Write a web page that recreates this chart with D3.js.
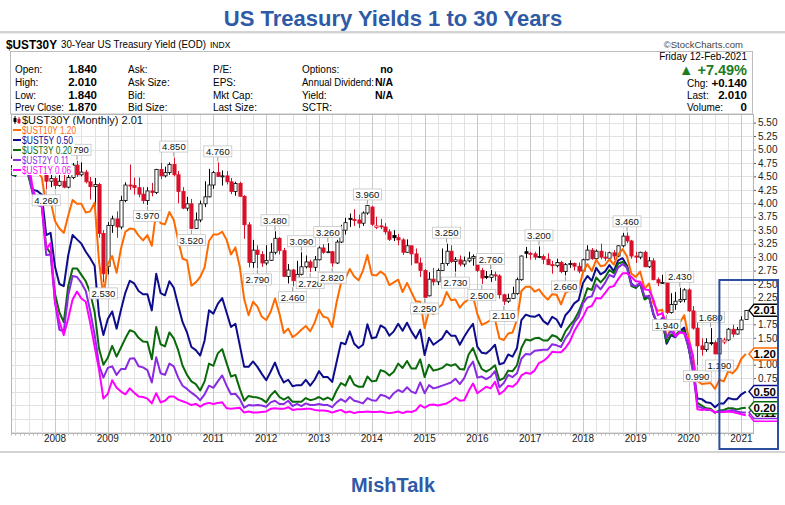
<!DOCTYPE html>
<html><head><meta charset="utf-8">
<script src="https://cdn.jsdelivr.net/npm/d3@7"></script>
<style>
body{margin:0;background:#fff}
svg{display:block}
text{font-family:"Liberation Sans",Arial,sans-serif}
</style>
</head><body>
<svg id="c" width="785" height="505"></svg>
<script>
// ---------------- DATA ----------------
// monthly bars, Mar 2007 .. Feb 2021
const months = d3.timeMonth.range(new Date(2007,2,1), new Date(2021,2,1)).map(d3.timeFormat("%Y-%m"));
const years = ["2008","2009","2010","2011","2012","2013","2014","2015","2016","2017","2018","2019","2020","2021"];

// $UST30Y monthly OHLC
const o30 = [4.70,4.84,4.81,5.01,5.12,4.91,4.84,4.83,4.76,4.41,
 4.46,4.33,4.41,4.30,4.48,4.71,4.53,4.58,4.40,4.31,4.35,3.44,
 2.83,3.59,3.71,3.56,4.05,4.34,4.33,4.29,4.17,4.05,4.23,4.20,
 4.63,4.51,4.57,4.72,4.53,4.22,3.91,3.99,3.53,3.69,3.99,4.12,
 4.34,4.57,4.50,4.51,4.40,4.22,4.37,4.13,3.60,2.90,3.13,3.05,
 2.89,2.94,3.09,3.35,3.12,2.64,2.76,2.56,2.68,2.82,2.91,2.81,
 2.95,3.17,3.09,3.10,2.89,3.28,3.50,3.72,3.70,3.69,3.63,3.82,
 3.93,3.55,3.58,3.56,3.47,3.40,3.36,3.32,3.09,3.21,3.06,2.89,
 2.75,2.28,2.59,2.54,2.75,2.88,3.11,2.92,2.95,2.87,2.93,2.98,
 3.01,2.75,2.64,2.62,2.67,2.65,2.30,2.18,2.23,2.32,2.58,3.10,
 3.07,3.06,3.00,3.01,2.96,2.86,2.84,2.90,2.73,2.86,2.88,2.83,
 2.74,2.95,3.13,2.97,3.11,3.00,2.98,3.08,3.02,3.21,3.39,3.30,
 3.02,3.00,3.09,2.82,2.93,2.58,2.52,2.53,1.97,2.12,2.18,2.21,
 2.39,2.00,1.68,1.35,1.28,1.41,1.41,1.20,1.42,1.46,1.66,1.57,
 1.65,1.84];
const h30 = [4.87,4.97,5.03,5.35,5.20,5.00,4.92,4.95,4.80,4.66,
 4.50,4.70,4.63,4.57,4.75,4.79,4.76,4.62,4.49,4.47,4.38,3.50,
 3.65,3.77,3.85,4.14,4.39,4.72,4.48,4.48,4.30,4.30,4.38,4.64,
 4.75,4.68,4.76,4.85,4.60,4.30,4.12,4.08,3.83,4.05,4.41,4.64,
 4.60,4.76,4.61,4.60,4.47,4.40,4.40,4.15,3.65,3.32,3.22,3.11,
 3.22,3.26,3.48,3.37,3.17,2.87,2.78,2.93,3.09,3.03,2.95,3.02,
 3.20,3.24,3.26,3.11,3.32,3.60,3.73,3.81,3.89,3.79,3.85,3.96,
 3.95,3.75,3.71,3.63,3.52,3.50,3.43,3.35,3.33,3.21,3.16,2.99,
 2.78,2.72,2.80,2.79,3.16,3.25,3.22,3.00,3.03,3.01,3.10,3.05,
 3.04,2.80,2.74,2.76,2.73,2.68,2.32,2.32,2.45,2.62,3.03,3.19,
 3.10,3.10,3.20,3.05,3.07,2.93,2.97,2.93,2.89,2.94,2.90,2.90,
 2.97,3.22,3.17,3.14,3.25,3.10,3.10,3.13,3.22,3.45,3.46,3.32,
 3.10,3.10,3.12,3.00,2.98,2.62,2.67,2.55,2.33,2.35,2.43,2.42,
 2.42,2.09,1.96,1.49,1.49,1.68,1.45,1.56,1.50,1.68,1.74,1.70,
 1.90,2.01];
const l30 = [4.62,4.77,4.80,5.00,4.87,4.67,4.62,4.68,4.26,4.30,
 4.27,4.31,4.28,4.28,4.45,4.49,4.50,4.37,4.07,3.94,3.36,2.53,
 2.68,3.45,3.36,3.52,4.02,4.25,4.16,4.11,3.99,3.97,4.13,4.17,
 4.45,4.48,4.53,4.50,4.00,3.89,3.86,3.52,3.53,3.65,3.93,4.11,
 4.27,4.49,4.33,4.35,4.17,4.14,4.13,3.34,2.81,2.80,2.79,2.82,
 2.85,2.93,3.05,3.05,2.64,2.51,2.46,2.52,2.66,2.79,2.72,2.74,
 2.94,3.06,3.08,2.82,2.87,3.26,3.42,3.56,3.58,3.54,3.58,3.79,
 3.58,3.52,3.52,3.42,3.30,3.30,3.22,3.04,3.08,2.85,2.89,2.63,
 2.25,2.27,2.47,2.48,2.74,2.84,2.89,2.73,2.83,2.82,2.90,2.84,
 2.72,2.50,2.59,2.54,2.56,2.23,2.11,2.15,2.22,2.30,2.56,2.98,
 2.95,2.95,2.98,2.87,2.85,2.69,2.81,2.70,2.66,2.80,2.75,2.70,
 2.72,2.94,2.95,2.94,2.96,2.93,2.93,2.95,3.00,3.18,3.26,2.97,
 2.89,2.96,2.81,2.80,2.57,2.46,2.50,1.94,1.95,2.02,2.15,2.16,
 1.98,1.65,0.99,1.17,1.24,1.36,1.20,1.19,1.38,1.44,1.51,1.56,
 1.64,1.84];
const c30 = [4.84,4.81,5.01,5.12,4.91,4.84,4.83,4.76,4.41,4.46,
 4.33,4.41,4.30,4.48,4.71,4.53,4.58,4.40,4.31,4.35,3.44,2.69,
 3.59,3.71,3.56,4.05,4.34,4.33,4.29,4.17,4.05,4.23,4.20,4.63,
 4.51,4.57,4.72,4.53,4.22,3.91,3.99,3.53,3.69,3.99,4.12,4.34,
 4.57,4.50,4.51,4.40,4.22,4.37,4.13,3.60,2.90,3.13,3.05,2.89,
 2.94,3.09,3.35,3.12,2.64,2.76,2.56,2.68,2.82,2.91,2.81,2.95,
 3.17,3.09,3.10,2.89,3.28,3.50,3.64,3.70,3.69,3.63,3.82,3.96,
 3.61,3.58,3.56,3.47,3.33,3.36,3.32,3.09,3.21,3.06,2.89,2.75,
 2.25,2.59,2.54,2.75,2.88,3.11,2.92,2.95,2.87,2.93,2.98,3.01,
 2.75,2.61,2.62,2.67,2.65,2.30,2.18,2.23,2.32,2.58,3.02,3.07,
 3.06,3.00,3.01,2.96,2.86,2.84,2.90,2.73,2.86,2.88,2.83,2.74,
 2.95,3.13,2.97,3.11,3.00,2.98,3.08,3.02,3.21,3.39,3.30,3.02,
 3.00,3.09,2.82,2.93,2.58,2.52,2.53,1.97,2.12,2.18,2.21,2.39,
 2.00,1.68,1.35,1.28,1.41,1.41,1.20,1.49,1.46,1.66,1.57,1.65,
 1.83,2.01];

const y10 = [4.65,4.63,4.90,5.03,4.78,4.54,4.59,4.48,3.97,4.04,
 3.67,3.53,3.45,3.77,4.06,3.99,3.99,3.83,3.85,4.01,2.93,2.25,
 2.87,3.02,2.71,3.16,3.47,3.53,3.52,3.40,3.31,3.41,3.21,3.85,
 3.63,3.61,3.84,3.69,3.31,2.97,2.94,2.47,2.53,2.63,2.81,3.30,
 3.42,3.42,3.47,3.32,3.05,3.18,2.82,2.22,1.92,2.17,2.08,1.89,
 1.83,1.98,2.23,1.95,1.59,1.67,1.51,1.57,1.65,1.72,1.62,1.78,
 2.02,1.89,1.87,1.70,2.16,2.52,2.60,2.78,2.64,2.57,2.75,3.04,
 2.67,2.66,2.73,2.67,2.48,2.53,2.58,2.35,2.52,2.35,2.18,2.17,
 1.68,2.00,1.94,2.05,2.12,2.35,2.20,2.21,2.06,2.16,2.21,2.27,
 1.94,1.74,1.78,1.83,1.84,1.49,1.46,1.58,1.60,1.84,2.37,2.45,
 2.45,2.36,2.40,2.29,2.21,2.31,2.30,2.12,2.33,2.38,2.42,2.40,
 2.72,2.87,2.74,2.95,2.83,2.85,2.96,2.86,3.05,3.15,3.01,2.69,
 2.63,2.73,2.41,2.51,2.14,2.00,2.02,1.50,1.68,1.69,1.78,1.92,
 1.51,1.13,0.70,0.64,0.65,0.66,0.55,0.72,0.69,0.88,0.84,0.93,
 1.11,1.20];
const y5 = [4.54,4.51,4.86,4.92,4.56,4.25,4.23,4.16,3.41,3.45,
 2.82,2.50,2.46,3.03,3.41,3.33,3.25,3.10,2.98,2.84,1.93,1.55,
 1.85,1.99,1.67,2.02,2.34,2.56,2.51,2.37,2.31,2.31,2.01,2.69,
 2.33,2.29,2.55,2.43,2.10,1.79,1.60,1.33,1.27,1.17,1.45,2.01,
 1.95,2.13,2.24,1.97,1.70,1.76,1.36,0.96,0.96,1.06,0.96,0.83,
 0.71,0.87,1.04,0.82,0.67,0.72,0.60,0.62,0.62,0.72,0.61,0.72,
 0.88,0.77,0.77,0.68,1.05,1.41,1.38,1.62,1.39,1.31,1.37,1.75,
 1.49,1.51,1.73,1.68,1.54,1.62,1.76,1.63,1.78,1.62,1.49,1.65,
 1.18,1.50,1.37,1.43,1.49,1.63,1.54,1.54,1.37,1.52,1.65,1.76,
 1.33,1.22,1.21,1.28,1.37,1.01,1.03,1.19,1.15,1.31,1.83,1.93,
 1.90,1.89,1.93,1.81,1.75,1.89,1.84,1.70,1.92,2.01,2.14,2.20,
 2.52,2.65,2.56,2.80,2.68,2.73,2.85,2.74,2.94,2.98,2.84,2.51,
 2.43,2.52,2.23,2.28,1.93,1.76,1.84,1.39,1.55,1.51,1.62,1.69,
 1.32,0.94,0.37,0.36,0.30,0.29,0.21,0.28,0.28,0.38,0.36,0.36,
 0.45,0.50];
const y3 = [4.54,4.52,4.85,4.86,4.49,4.18,4.07,3.97,3.19,3.07,
 2.32,1.97,1.79,2.46,2.79,2.79,2.67,2.55,2.34,1.98,1.30,1.00,
 1.13,1.35,1.15,1.32,1.49,1.64,1.61,1.50,1.43,1.42,1.10,1.70,
 1.38,1.34,1.60,1.49,1.27,0.98,0.81,0.69,0.64,0.52,0.69,1.02,
 0.98,1.21,1.29,1.03,0.78,0.81,0.55,0.33,0.42,0.40,0.39,0.36,
 0.30,0.43,0.51,0.40,0.35,0.40,0.31,0.31,0.31,0.38,0.34,0.36,
 0.40,0.35,0.39,0.34,0.52,0.66,0.61,0.79,0.63,0.59,0.59,0.78,
 0.69,0.70,0.90,0.87,0.80,0.87,1.02,0.94,1.07,0.93,0.93,1.10,
 0.77,1.00,0.89,0.91,0.94,1.01,0.98,1.01,0.92,0.91,1.19,1.31,
 1.09,0.92,0.87,0.92,0.99,0.71,0.75,0.89,0.88,0.99,1.31,1.47,
 1.45,1.49,1.50,1.45,1.45,1.55,1.52,1.44,1.62,1.73,1.83,1.98,
 2.18,2.42,2.39,2.62,2.53,2.62,2.76,2.70,2.88,2.91,2.82,2.46,
 2.43,2.50,2.21,2.26,1.95,1.71,1.83,1.42,1.56,1.55,1.63,1.62,
 1.31,0.89,0.29,0.24,0.19,0.18,0.11,0.15,0.16,0.19,0.19,0.17,
 0.19,0.20];
const y2 = [4.58,4.60,4.92,4.87,4.56,4.15,3.97,3.94,3.04,3.05,
 2.16,1.65,1.62,2.29,2.65,2.63,2.52,2.37,2.00,1.56,1.00,0.76,
 0.94,0.97,0.81,0.92,0.92,1.11,1.12,0.97,0.95,0.90,0.67,1.14,
 0.84,0.81,1.02,0.97,0.76,0.61,0.55,0.48,0.42,0.34,0.45,0.61,
 0.57,0.69,0.80,0.61,0.45,0.46,0.36,0.20,0.25,0.24,0.25,0.24,
 0.22,0.30,0.33,0.27,0.27,0.33,0.23,0.27,0.23,0.28,0.25,0.25,
 0.27,0.25,0.25,0.21,0.30,0.36,0.31,0.40,0.33,0.31,0.28,0.38,
 0.34,0.33,0.44,0.42,0.37,0.47,0.53,0.49,0.58,0.50,0.47,0.67,
 0.47,0.62,0.56,0.58,0.61,0.64,0.67,0.74,0.64,0.75,0.94,1.06,
 0.76,0.78,0.73,0.78,0.88,0.58,0.66,0.81,0.77,0.84,1.11,1.20,
 1.19,1.26,1.27,1.28,1.28,1.38,1.36,1.33,1.49,1.60,1.78,1.89,
 2.14,2.25,2.27,2.49,2.40,2.52,2.67,2.63,2.81,2.87,2.80,2.48,
 2.46,2.52,2.27,2.27,1.95,1.75,1.87,1.50,1.63,1.52,1.61,1.58,
 1.33,0.86,0.23,0.20,0.16,0.16,0.11,0.14,0.13,0.14,0.16,0.13,
 0.11,0.11];
const y1 = [4.90,4.88,4.96,4.91,4.77,4.24,4.05,3.96,3.15,3.26,
 2.17,1.80,1.55,1.86,2.21,2.36,2.23,2.17,1.78,1.34,0.91,0.37,
 0.46,0.71,0.57,0.50,0.45,0.56,0.48,0.41,0.40,0.37,0.28,0.47,
 0.30,0.33,0.41,0.41,0.35,0.32,0.29,0.25,0.27,0.22,0.27,0.29,
 0.27,0.29,0.30,0.19,0.18,0.19,0.20,0.11,0.13,0.11,0.11,0.12,
 0.13,0.18,0.19,0.18,0.18,0.21,0.16,0.17,0.17,0.18,0.18,0.16,
 0.15,0.15,0.14,0.11,0.14,0.16,0.11,0.13,0.10,0.12,0.12,0.13,
 0.12,0.12,0.13,0.11,0.10,0.11,0.13,0.10,0.13,0.12,0.15,0.25,
 0.20,0.25,0.26,0.24,0.26,0.28,0.33,0.39,0.33,0.34,0.51,0.65,
 0.47,0.53,0.59,0.56,0.68,0.45,0.51,0.61,0.59,0.66,0.80,0.85,
 0.83,0.89,1.03,1.07,1.14,1.24,1.23,1.23,1.31,1.43,1.62,1.76,
 1.89,2.06,2.09,2.24,2.23,2.33,2.44,2.46,2.59,2.70,2.70,2.63,
 2.55,2.54,2.40,2.39,2.21,1.92,1.96,1.76,1.75,1.53,1.60,1.59,
 1.45,1.17,0.17,0.16,0.17,0.16,0.12,0.12,0.12,0.13,0.12,0.10,
 0.08,0.06];

// swing-point annotations on the 30Y candles
const labelMonths = ["2007-11","2008-06","2008-12","2009-10","2010-04","2010-08","2011-02","2011-11",
 "2012-03","2012-07","2012-09","2012-11","2013-03","2013-04","2013-12","2015-01","2015-06","2015-08",
 "2016-02","2016-04","2016-07","2017-03","2017-09","2018-11","2019-08","2019-11","2020-03","2020-06","2020-08"];
const labelSides = ["low","high","low","low","high","low","high","low",
 "high","low","high","low","high","low","high","low","high","low",
 "low","high","low","high","low","high","low","high","low","high","low"];

const seriesNames = ["$UST10Y","$UST5Y","$UST3Y","$UST2Y","$UST1Y"];
const seriesColors = ["#ff6a00","#0c0c8c","#0a6a0a","#8a2be2","#ff00ff"];
const seriesData = [y10,y5,y3,y2,y1];
const yTickVals = ["0.25","0.50","0.75","1.00","1.25","1.50","1.75","2.00","2.25","2.50","2.75","3.00",
 "3.25","3.50","3.75","4.00","4.25","4.50","4.75","5.00","5.25","5.50"];

// ---------------- CHART ----------------
const svg = d3.select("#c");
const P = {l:11, r:753, t:114, b:433};
const x = d3.scalePoint().domain(months).range([11, 745.8]);
const y = d3.scaleLinear().domain([0, 2.5]).range([418.5, 284]);
const blue = "#2f5aa6";

// title
svg.append("text").attr("x",393).attr("y",26).attr("text-anchor","middle")
  .attr("font-size",22).attr("font-weight","bold").attr("fill",blue).text("US Treasury Yields 1 to 30 Years");
svg.append("rect").attr("x",0).attr("y",31).attr("width",785).attr("height",2).attr("fill","#d4d4d4");
svg.append("rect").attr("x",0).attr("y",33).attr("width",785).attr("height",1).attr("fill","#ececec");

// header
svg.append("text").attr("x",6).attr("y",49).attr("font-size",12.5).attr("font-weight","bold")
  .attr("textLength",51).attr("lengthAdjust","spacingAndGlyphs").text("$UST30Y");
svg.append("text").attr("x",61).attr("y",48).attr("font-size",10.5)
  .attr("textLength",145).attr("lengthAdjust","spacingAndGlyphs").text("30-Year US Treasury Yield (EOD)");
svg.append("text").attr("x",210).attr("y",48).attr("font-size",8.5).text("INDX");
svg.append("text").attr("x",743).attr("y",48).attr("text-anchor","end").attr("font-size",9.5).attr("fill","#444").text("\u00a9StockCharts.com");
svg.append("rect").attr("x",10.5).attr("y",51.5).attr("width",742).attr("height",62.5)
  .attr("fill","#fff").attr("stroke","#bdbdbd");

const hdrRows = [73, 86, 98.5, 111];
const col = (xx, arr, opts={}) => arr.forEach((t,i)=>{
  const tx = svg.append("text").attr("x",xx).attr("y",hdrRows[i]).attr("font-size",opts.size||10)
    .attr("font-weight",opts.bold?"bold":"normal").attr("text-anchor",opts.anchor||"start").text(t);
  if (opts.len && opts.len[i]) tx.attr("textLength",opts.len[i]).attr("lengthAdjust","spacingAndGlyphs");
});
col(15, ["Open:","High:","Low:","Prev Close:"], {len:[0,0,0,49]});
col(97, ["1.840","2.010","1.840","1.870"], {bold:true, size:11.5, anchor:"end"});
col(128, ["Ask:","Ask Size:","Bid:","Bid Size:"]);
col(213, ["P/E:","EPS:","Mkt Cap:","Last Size:"]);
col(302, ["Options:","Annual Dividend:","Yield:","SCTR:"], {len:[0,72,0,0]});
col(393, ["no","N/A","N/A",""], {bold:true, size:10.5, anchor:"end"});
svg.append("text").attr("x",747).attr("y",60).attr("text-anchor","end").attr("font-size",10).text("Friday  12-Feb-2021");
svg.append("text").attr("x",747).attr("y",75).attr("text-anchor","end").attr("font-size",14.5).attr("font-weight","bold")
  .attr("fill","#1e7b1e").text("\u25B2 +7.49%");
[["Chg:","+0.140",86.5],["Last:","2.010",99],["Volume:","0",111]].forEach(r=>{
  svg.append("text").attr("x",687).attr("y",r[2]).attr("font-size",10).text(r[0]);
  svg.append("text").attr("x",747).attr("y",r[2]).attr("text-anchor","end").attr("font-size",11.5).attr("font-weight","bold").text(r[1]);
});

// plot area
svg.append("defs").append("clipPath").attr("id","clip").append("rect")
  .attr("x",P.l).attr("y",P.t).attr("width",P.r-P.l).attr("height",P.b-P.t);
svg.append("rect").attr("x",P.l).attr("y",P.t).attr("width",P.r-P.l).attr("height",P.b-P.t).attr("fill","#fff");
const grid = svg.append("g").attr("clip-path","url(#clip)");
const hGrid = d3.range(-1, 23).map(i => i*0.25);
grid.selectAll(".hg").data(hGrid).join("line")
  .attr("x1",P.l).attr("x2",P.r).attr("y1",d=>Math.round(y(d))+0.5).attr("y2",d=>Math.round(y(d))+0.5)
  .attr("stroke","#e2e2e2");
const qMonths = months.filter(m => ["01","04","07","10"].includes(m.slice(5)));
grid.selectAll(".vg").data(qMonths).join("line")
  .attr("x1",d=>Math.round(x(d))+0.5).attr("x2",d=>Math.round(x(d))+0.5).attr("y1",P.t).attr("y2",P.b)
  .attr("stroke",d=>d.slice(5)==="01"?"#c9c9c9":"#e2e2e2");

// x axis
svg.append("line").attr("x1",P.l).attr("x2",P.r).attr("y1",P.b+0.5).attr("y2",P.b+0.5).attr("stroke","#aaa");
svg.append("g").selectAll("line").data(months).join("line")
  .attr("x1",d=>Math.round(x(d))+0.5).attr("x2",d=>Math.round(x(d))+0.5).attr("y1",P.b).attr("y2",P.b+2.5)
  .attr("stroke","#bbb");
svg.append("g").selectAll("text").data(years).join("text")
  .attr("x",d=>x(d+"-01")).attr("y",442).attr("text-anchor","middle").attr("font-size",10).attr("fill","#222").text(d=>d);

// last values (used by tags and to hide tick labels sitting beneath them)
const lastVals = [y1[y1.length-1], y2[y2.length-1], y3[y3.length-1], y5[y5.length-1], y10[y10.length-1], c30[c30.length-1]];
const hiddenTick = v => lastVals.some(l => Math.abs(y(l) - y(v)) < 8);

// y axis (right)
const yAxis = d3.axisRight(y).tickValues(yTickVals.map(Number))
  .tickFormat(v => hiddenTick(v) ? "" : d3.format(".2f")(v)).tickSize(3).tickPadding(2);
const ga = svg.append("g").attr("transform",`translate(${P.r},0)`).call(yAxis);
ga.select(".domain").attr("stroke","#aaa");
ga.selectAll(".tick line").attr("stroke","#555");
ga.selectAll(".tick text").attr("font-size",10).attr("fill","#222").attr("font-family","Liberation Sans, Arial, sans-serif");
svg.append("rect").attr("x",P.l+0.5).attr("y",P.t+0.5).attr("width",P.r-P.l).attr("height",P.b-P.t)
  .attr("fill","none").attr("stroke","#b5b5b5");

// candles
const plotG = svg.append("g").attr("clip-path","url(#clip)");
const red = "#d8112b";
const bars = months.map((m,i)=>({m, o:o30[i], h:h30[i], l:l30[i], c:c30[i], pc: i? c30[i-1] : o30[i]}));
const cg = plotG.append("g");
bars.forEach(b=>{
  const col = b.c >= b.pc ? "#000" : red;
  const hollow = b.c > b.o;
  const cx = Math.round(x(b.m)) + 0.5;
  cg.append("line").attr("x1",cx).attr("x2",cx).attr("y1",y(b.h)).attr("y2",y(b.l)).attr("stroke",col).attr("stroke-width",1);
  const top = y(Math.max(b.o,b.c)), bot = y(Math.min(b.o,b.c));
  cg.append("rect").attr("x",cx-1.6).attr("width",3.2).attr("y",top).attr("height",Math.max(1,bot-top))
    .attr("fill",hollow?"#fff":col).attr("stroke",col).attr("stroke-width",0.8);
});

// overlay lines
const line = d3.line().x((d,i)=>x(months[i])).y(d=>y(d)).curve(d3.curveLinear);
seriesData.forEach((s,k)=>{
  plotG.append("path").attr("d",line(s)).attr("fill","none").attr("stroke",seriesColors[k])
    .attr("stroke-width",2).attr("stroke-linejoin","round");
});

// swing labels
const lg = plotG.append("g");
labelMonths.forEach((m,k)=>{
  const i = months.indexOf(m);
  const hi = labelSides[k]==="high";
  const v = hi ? h30[i] : l30[i];
  const px = x(m), py = y(v);
  const cy = hi ? py-11 : py+11;
  lg.append("line").attr("x1",px).attr("x2",px).attr("y1",hi?py-1:py+1).attr("y2",hi?cy+5:cy-5).attr("stroke","#999");
  lg.append("rect").attr("x",px-14).attr("y",cy-5.5).attr("width",28).attr("height",11)
    .attr("fill","#fff").attr("stroke","#c4c4c4").attr("stroke-width",0.8);
  lg.append("text").attr("x",px).attr("y",cy+3.5).attr("text-anchor","middle").attr("font-size",9.5).attr("fill","#111")
    .text(d3.format(".3f")(v));
});

// legend
const legRows = [{t:`$UST30Y (Monthly) ${d3.format(".2f")(c30[c30.length-1])}`, c:"#111"}]
  .concat(seriesNames.map((n,k)=>({t:`${n} ${d3.format(".2f")(seriesData[k][seriesData[k].length-1])}`, c:seriesColors[k]})));
const legW = [121, 54, 51, 50, 47, 49];
legRows.forEach((r,i)=>{
  const cy = 120 + i*10;
  svg.append("rect").attr("x",P.l+1).attr("y",cy-5).attr("width",legW[i]+12).attr("height",10).attr("fill","#fff");
  if(i===0){
    svg.append("line").attr("x1",15).attr("x2",15).attr("y1",cy-4).attr("y2",cy+4).attr("stroke","#000");
    svg.append("rect").attr("x",13.5).attr("y",cy-2).attr("width",3).attr("height",4).attr("fill","#000");
    svg.append("line").attr("x1",19).attr("x2",19).attr("y1",cy-3).attr("y2",cy+4).attr("stroke",red);
    svg.append("rect").attr("x",17.5).attr("y",cy-1).attr("width",3).attr("height",4).attr("fill",red);
  } else {
    svg.append("line").attr("x1",13).attr("x2",21).attr("y1",cy).attr("y2",cy).attr("stroke",r.c).attr("stroke-width",2);
  }
  svg.append("text").attr("x",22).attr("y",cy+3.5).attr("font-size",10).attr("fill",r.c)
    .attr("textLength",legW[i]).attr("lengthAdjust","spacingAndGlyphs").text(r.t);
});

// last-value tags on the right
const tagColors = [seriesColors[4], seriesColors[3], seriesColors[2], seriesColors[1], seriesColors[0], "#000"];
lastVals.forEach((v,k)=>{
  const yy = y(v), x0 = 749, w = 29, h = 12;
  svg.append("path").attr("d",`M${x0},${yy} L${x0+5},${yy-h/2} L${x0+w},${yy-h/2} L${x0+w},${yy+h/2} L${x0+5},${yy+h/2} Z`)
    .attr("fill","#fff").attr("stroke",tagColors[k]).attr("stroke-width",1.5);
  svg.append("text").attr("x",x0+w-2).attr("y",yy+4).attr("text-anchor","end").attr("font-size",11.5)
    .attr("font-weight","bold").attr("fill","#000").text(d3.format(".2f")(v));
});

// highlight box around the latest months
const boxL = x("2020-08");
svg.append("rect").attr("x",boxL).attr("y",280).attr("width",778-boxL).attr("height",169)
  .attr("fill","none").attr("stroke","#2d4f9e").attr("stroke-width",2);

// bottom separator and footer
svg.append("rect").attr("x",0).attr("y",451).attr("width",785).attr("height",2).attr("fill","#d4d4d4");
svg.append("text").attr("x",393).attr("y",492).attr("text-anchor","middle").attr("font-size",20)
  .attr("font-weight","bold").attr("fill",blue).text("MishTalk");
</script>
</body></html>
